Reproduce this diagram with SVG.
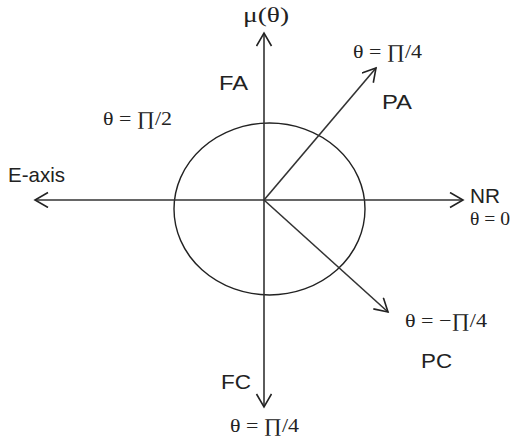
<svg xmlns="http://www.w3.org/2000/svg" width="511" height="440" viewBox="0 0 511 440">
<defs>
<style>
.ax{stroke:#333;stroke-width:1.6;fill:none}
.sans{font-family:"Liberation Sans",Arial,sans-serif;font-size:21px;fill:#222}
.serif{font-family:"Liberation Serif","DejaVu Serif",serif;font-size:19px;fill:#222}
.mu{font-size:21px}
</style>
<marker id="ah" markerWidth="16" markerHeight="18" refX="14" refY="8" orient="auto" markerUnits="userSpaceOnUse">
<path d="M1,0.5 L14,8 L1,15.5" fill="none" stroke="#222" stroke-width="1.6"/>
</marker>
</defs>
<rect width="511" height="440" fill="#fff"/>
<g id="circle"><ellipse cx="269.5" cy="209" rx="95.5" ry="86" fill="none" stroke="#222" stroke-width="1.4"/></g>
<g id="connectors">
<line class="ax" x1="264" y1="200" x2="264" y2="33" marker-end="url(#ah)"/>
<line class="ax" x1="264" y1="200" x2="264" y2="407" marker-end="url(#ah)"/>
<line class="ax" x1="264" y1="200" x2="35" y2="200" marker-end="url(#ah)"/>
<line class="ax" x1="264" y1="200" x2="463" y2="200" marker-end="url(#ah)"/>
<line class="ax" x1="264" y1="200" x2="376" y2="68" marker-end="url(#ah)"/>
<line class="ax" x1="264" y1="200" x2="388" y2="312" marker-end="url(#ah)"/>
</g>
<g id="labels">
<text class="serif mu" x="243" y="22" textLength="46" lengthAdjust="spacingAndGlyphs">μ(θ)</text>
<text class="serif" x="353" y="58" textLength="69" lengthAdjust="spacingAndGlyphs">θ = ∏/4</text>
<text class="sans" x="382" y="109" textLength="30" lengthAdjust="spacingAndGlyphs">PA</text>
<text class="sans" x="219" y="90" textLength="29" lengthAdjust="spacingAndGlyphs">FA</text>
<text class="serif" x="103" y="125" textLength="69" lengthAdjust="spacingAndGlyphs">θ = ∏/2</text>
<text class="sans" x="8" y="182" textLength="57" lengthAdjust="spacingAndGlyphs">E-axis</text>
<text class="sans" x="470" y="203" textLength="30" lengthAdjust="spacingAndGlyphs">NR</text>
<text class="serif" x="470" y="225" textLength="40" lengthAdjust="spacingAndGlyphs">θ = 0</text>
<text class="serif" x="405" y="327" textLength="82" lengthAdjust="spacingAndGlyphs">θ = −∏/4</text>
<text class="sans" x="421" y="368" textLength="31" lengthAdjust="spacingAndGlyphs">PC</text>
<text class="sans" x="221" y="389" textLength="30" lengthAdjust="spacingAndGlyphs">FC</text>
<text class="serif" x="230" y="432" textLength="69" lengthAdjust="spacingAndGlyphs">θ = ∏/4</text>
</g>
</svg>
